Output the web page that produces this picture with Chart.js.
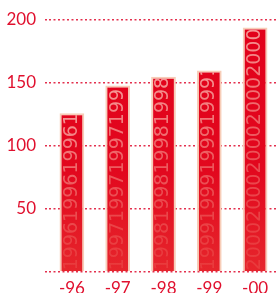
<!DOCTYPE html>
<html>
<head>
<meta charset="utf-8">
<script src="https://cdn.jsdelivr.net/npm/chart.js@4/dist/chart.umd.min.js"></script>
<style>
html,body{margin:0;padding:0;background:#fff;}
#wrap{width:278px;height:293px;}
</style>
</head>
<body>
<div id="wrap"><canvas id="c" width="278" height="293"></canvas></div>
<script>
const categories = ["-96", "-97", "-98", "-99", "-00"];
const barTexts = ["1996", "1997", "1998", "1999", "2000"];
const values = [126, 148, 155, 160, 194];
const yTicks = [0, 50, 100, 150, 200];

const RED = '#e2001a';
const TEXT_RED = '#e0102e';

const barTextPlugin = {
  id: 'barText',
  afterDatasetsDraw(chart) {
    const meta = chart.getDatasetMeta(0);
    const ctx = chart.ctx;
    meta.data.forEach((bar, i) => {
      const p = bar.getProps(['x', 'y', 'base', 'width'], true);
      const left = p.x - p.width / 2 + 2, right = p.x + p.width / 2 - 2;
      const top = p.y + 2, bottom = p.base;
      const len = bottom - top;
      ctx.save();
      ctx.beginPath();
      ctx.rect(left, top, right - left, len);
      ctx.clip();
      ctx.translate(p.x, bottom);
      ctx.rotate(-Math.PI / 2);
      ctx.font = '19px "DejaVu Sans"';
      ctx.textBaseline = 'middle';
      ctx.textAlign = 'left';
      const g = ctx.createLinearGradient(0, 0, len, 0);
      g.addColorStop(0, 'rgba(245,150,130,0.18)');
      g.addColorStop(0.5, 'rgba(248,175,160,0.45)');
      g.addColorStop(1, 'rgba(252,200,190,0.75)');
      ctx.fillStyle = g;
      let s = '';
      for (let k = 0; k < 12; k++) s += barTexts[i];
      ctx.fillText(s, 1, 0);
      ctx.restore();
    });
  }
};

new Chart(document.getElementById('c'), {
  type: 'bar',
  data: {
    labels: categories,
    datasets: [{
      data: values,
      backgroundColor: (c) => {
        const a = c.chart.chartArea;
        if (!a) return RED;
        const g = c.chart.ctx.createLinearGradient(0, a.bottom, 0, a.top);
        g.addColorStop(0, '#e6262c');
        g.addColorStop(0.4, '#e2081e');
        g.addColorStop(1, '#e2001a');
        return g;
      },
      borderColor: '#f7cdb8',
      borderWidth: {top: 2, left: 2, right: 2, bottom: 0},
      borderSkipped: 'bottom',
      barPercentage: 0.54,
      categoryPercentage: 1.0
    }]
  },
  options: {
    responsive: false,
    animation: false,
    devicePixelRatio: 1,
    layout: {padding: {top: 20, right: 0, left: 0, bottom: 0}},
    plugins: {legend: {display: false}, tooltip: {enabled: false}},
    scales: {
      x: {
        grid: {display: false, drawTicks: false},
        border: {display: false},
        ticks: {color: TEXT_RED, font: {family: 'Lato', size: 17}, padding: 6},
        afterFit: (s) => { s.height = 21; }
      },
      y: {
        min: 0, max: 200,
        afterBuildTicks: (s) => { s.ticks = yTicks.map(v => ({value: v})); },
        grid: {
          color: '#e3304e',
          lineWidth: 1.5,
          tickLength: 4,
          tickColor: '#e3304e',
          tickBorderDash: [2, 2.5],
          drawTicks: true
        },
        border: {display: false, dash: [2, 2.5]},
        ticks: {
          color: TEXT_RED,
          font: {family: 'Lato', size: 17},
          padding: 9,
          callback: (v) => v === 0 ? '' : String(v)
        },
        afterFit: (s) => { s.width = 49; }
      }
    }
  },
  plugins: [barTextPlugin]
});
</script>
</body>
</html>
